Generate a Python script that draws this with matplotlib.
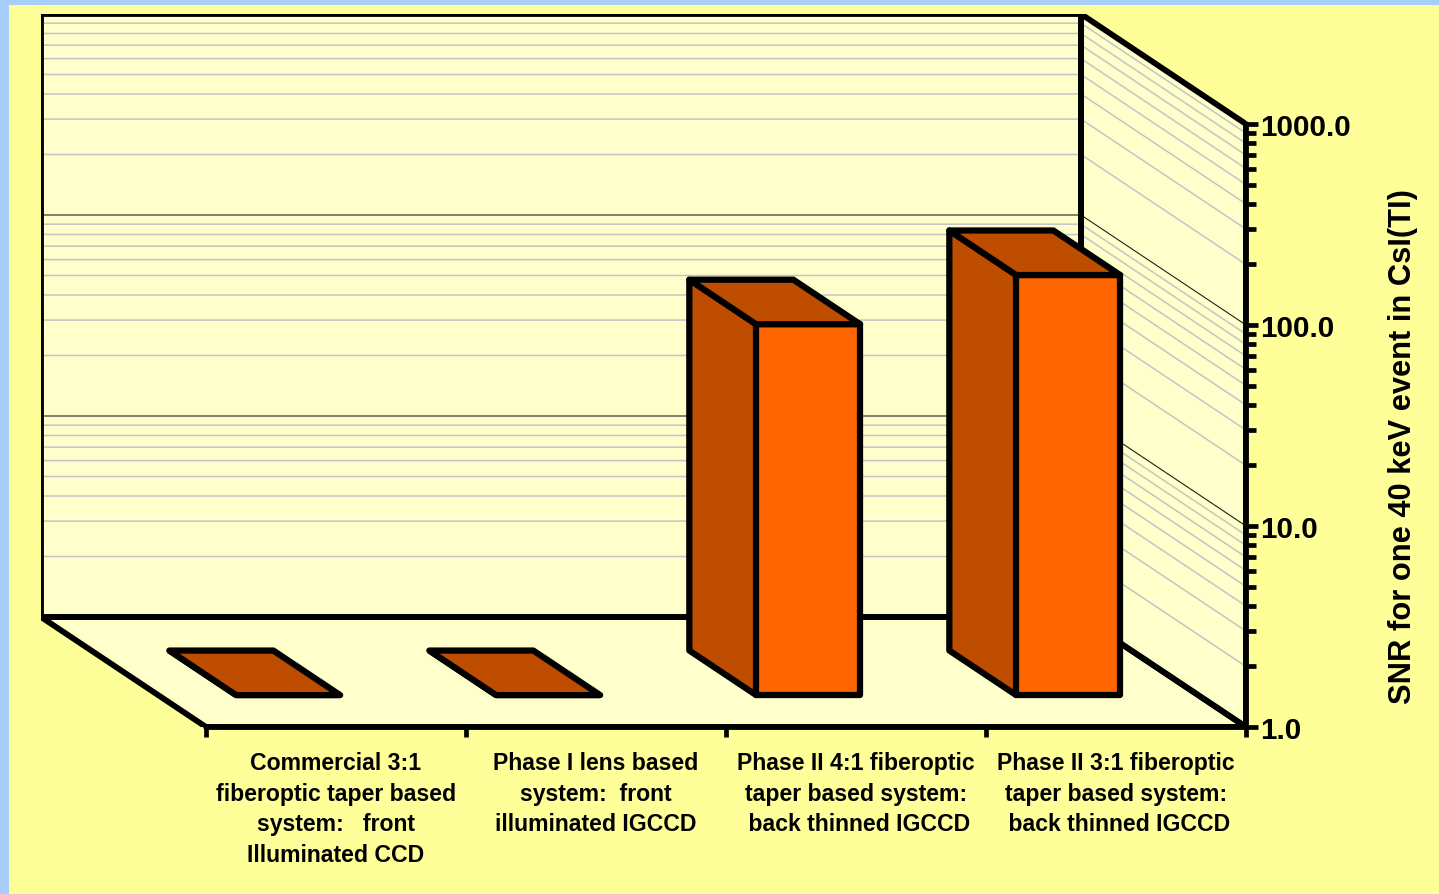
import numpy as np
import matplotlib
matplotlib.use("Agg")
import matplotlib.pyplot as plt
from matplotlib.patches import Polygon, Rectangle
from matplotlib.ticker import FixedLocator, FuncFormatter, NullFormatter

# ---- data -------------------------------------------------------------
categories = [
    "Commercial 3:1\nfiberoptic taper based\nsystem:   front\nIlluminated CCD",
    "Phase I lens based\nsystem:  front\nilluminated IGCCD",
    "Phase II 4:1 fiberoptic\ntaper based system:\n back thinned IGCCD",
    "Phase II 3:1 fiberoptic\ntaper based system:\n back thinned IGCCD",
]
snr = [1.0, 1.0, 70.0, 123.0]
y_ticks = [1.0, 10.0, 100.0, 1000.0]
y_label = "SNR for one 40 keV event in CsI(TI)"

# ---- layout / style ----------------------------------------------------
W, H, DPI = 1439, 895, 100
FONT = ["Liberation Sans", "DejaVu Sans"]
BG_BLUE = "#A6CEF8"
BG_YELLOW = "#FFFF99"
WALL = "#FFFFCC"
FRONT_C = "#FF6600"
SIDE_C = "#BF4D00"

# oblique depth of the floor: category units to the left, decades upward
DEPTH_X = 165 / 260
DEPTH_DEC = 110 / 201
BAR_FRONT, BAR_BACK = 0.29, 0.695
BAR_LEFT, BAR_RIGHT = 0.30, 0.70


def proj(x, y, d):
    """Map a point (category x, value y, depth d in 0..1) onto the front plane."""
    return (x - DEPTH_X * d, y * 10 ** (DEPTH_DEC * d))


fig = plt.figure(figsize=(W / DPI, H / DPI), dpi=DPI, facecolor=BG_BLUE)
fig.patches.append(Rectangle((9 / W, 0), 1 - 9 / W, 1 - 6 / H,
                             transform=fig.transFigure, facecolor=BG_YELLOW,
                             edgecolor="none", zorder=-10))

ax = fig.add_axes([41 / W, (H - 728) / H, (1246 - 41) / W, (728 - 15) / H])
ax.set_facecolor("none")
ax.set_yscale("log")
ymin, ymax = y_ticks[0], y_ticks[-1]
n = len(categories)
ax.set_xlim(-DEPTH_X, n)
ax.set_ylim(ymin, ymax * 10 ** DEPTH_DEC)

# ---- walls and floor --------------------------------------------------
back = [proj(0, ymin, 1), proj(n, ymin, 1), proj(n, ymax, 1), proj(0, ymax, 1)]
side = [proj(n, ymin, 1), proj(n, ymin, 0), proj(n, ymax, 0), proj(n, ymax, 1)]
floor = [proj(0, ymin, 1), proj(n, ymin, 1), proj(n, ymin, 0), proj(0, ymin, 0)]

for poly in (back, side, floor):
    ax.add_patch(Polygon(poly, closed=True, facecolor=WALL, edgecolor="none",
                         zorder=1))

# gridlines on the back and side walls
grid_vals = [k * 10 ** e for e in range(3) for k in range(1, 10)][1:]
for v in grid_vals:
    major = abs(np.log10(v) - round(np.log10(v))) < 1e-9
    col = "#202020" if major else "#C4C4C4"
    lw = 0.8 if major else 1.1
    xs, ys = zip(proj(0, v, 1), proj(n, v, 1), proj(n, v, 0))
    ax.plot(xs, ys, color=col, lw=lw, zorder=1.5, solid_capstyle="butt")

for poly in (back, side, floor):
    ax.add_patch(Polygon(poly, closed=True, facecolor="none", edgecolor="black",
                         lw=4.2, joinstyle="round", zorder=2))

# ---- bars -------------------------------------------------------------
for i, v in enumerate(snr):
    x0, x1 = i + BAR_LEFT, i + BAR_RIGHT
    front = [proj(x0, ymin, BAR_FRONT), proj(x1, ymin, BAR_FRONT),
             proj(x1, v, BAR_FRONT), proj(x0, v, BAR_FRONT)]
    left = [proj(x0, ymin, BAR_FRONT), proj(x0, v, BAR_FRONT),
            proj(x0, v, BAR_BACK), proj(x0, ymin, BAR_BACK)]
    top = [proj(x0, v, BAR_FRONT), proj(x1, v, BAR_FRONT),
           proj(x1, v, BAR_BACK), proj(x0, v, BAR_BACK)]
    for poly, col in ((left, SIDE_C), (front, FRONT_C), (top, SIDE_C)):
        ax.add_patch(Polygon(poly, closed=True, facecolor=col, edgecolor="black",
                             lw=4.5, joinstyle="round", zorder=3))

# ---- axes -------------------------------------------------------------
for s in ("top", "left"):
    ax.spines[s].set_visible(False)
ax.spines["right"].set_bounds(ymin, ymax)
ax.spines["bottom"].set_bounds(0, n)
for s in ("right", "bottom"):
    ax.spines[s].set_linewidth(4.2)
    ax.spines[s].set_capstyle("round")
    ax.spines[s].set_zorder(4)

ax.yaxis.set_major_locator(FixedLocator(y_ticks))
ax.yaxis.set_minor_locator(FixedLocator(
    [k * 10 ** e for e in range(3) for k in range(2, 10)]))
ax.yaxis.set_major_formatter(FuncFormatter(lambda v, p: f"{v:.1f}"))
ax.yaxis.set_minor_formatter(NullFormatter())
ax.tick_params(axis="y", which="both", left=False, right=True,
               labelleft=False, labelright=True, direction="out",
               width=3.4, color="black")
ax.tick_params(axis="y", which="major", length=8.5, pad=2,
               labelsize=21.3)
ax.tick_params(axis="y", which="minor", length=7.5)
for lab in ax.get_yticklabels():
    lab.set_fontweight("bold")
    lab.set_family(FONT)

ax.xaxis.set_major_locator(FixedLocator(range(n + 1)))
ax.xaxis.set_minor_locator(FixedLocator([]))
ax.tick_params(axis="x", which="major", direction="out", length=7.5,
               width=3.4, labelbottom=False)

for i, lab in enumerate(categories):
    ax.annotate(lab, xy=(i + 0.5, ymin), xytext=(0, -17),
                textcoords="offset points", ha="center", va="top",
                fontsize=16.6, fontweight="bold", family=FONT,
                linespacing=1.44, annotation_clip=False)

fig.text(1403 / W, 1 - 447 / H, y_label, rotation=90, ha="center",
         va="center", fontsize=22.2, fontweight="bold", family=FONT)

fig.savefig("out.png", dpi=DPI, facecolor=fig.get_facecolor())
